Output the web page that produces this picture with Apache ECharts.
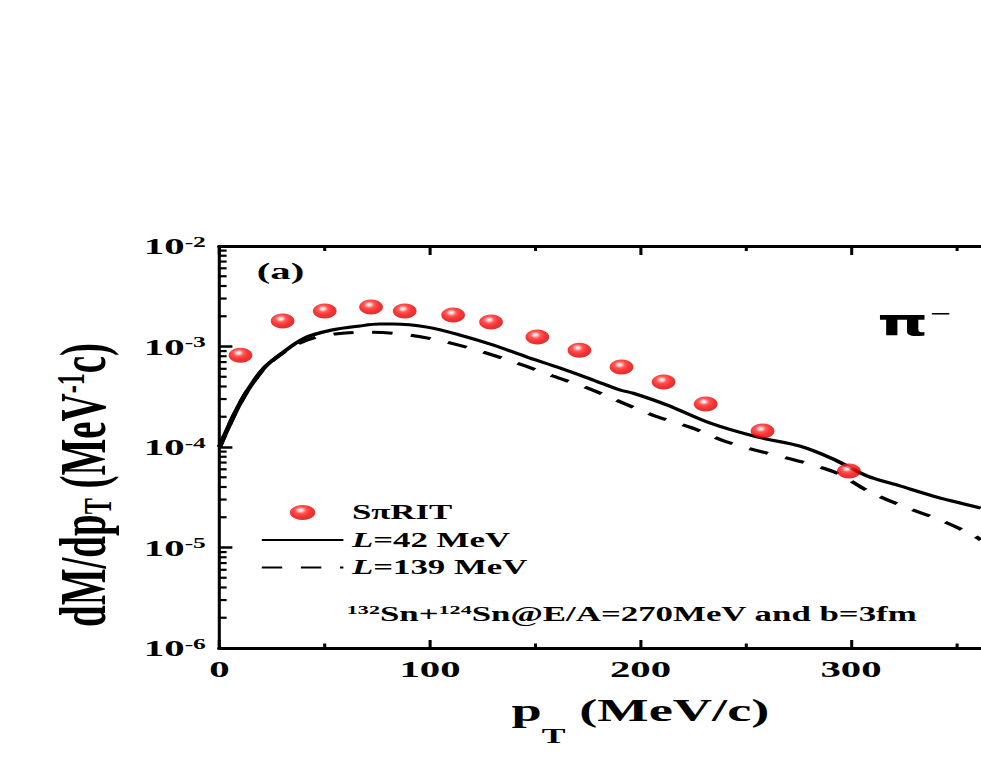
<!DOCTYPE html>
<html>
<head>
<meta charset="utf-8">
<script src="https://cdn.jsdelivr.net/npm/echarts@6/dist/echarts.min.js"></script>
<style>
html,body{margin:0;padding:0;background:#fff;overflow:hidden;width:981px;height:763px;}
#wrap{position:absolute;left:0;top:0;height:763px;transform-origin:0 0;}
</style>
</head>
<body>
<div id="wrap"></div>
<script>
// ---- data ----
const pTExp = [10, 30, 50, 72, 88, 111, 129, 151, 171, 191, 211, 231, 258, 299];
const dMExp = [8.2e-4, 1.79e-3, 2.25e-3, 2.47e-3, 2.25e-3, 2.06e-3, 1.75e-3, 1.24e-3, 9.2e-4, 6.25e-4, 4.43e-4, 2.68e-4, 1.44e-4, 5.77e-5];

const pTL42 = [0, 7.4, 13.5, 21.6, 29.7, 40.6, 53.4, 66.7, 76, 82.4, 98.6, 114.3, 130, 146, 161.8, 177.4, 190.3, 196.4, 212.6, 233, 255.3, 275.8, 291.5, 307.7, 323.4, 339, 361.7];
const dML42 = [1.0e-4, 2.18e-4, 3.69e-4, 6.25e-4, 8.6e-4, 1.22e-3, 1.46e-3, 1.60e-3, 1.67e-3, 1.67e-3, 1.56e-3, 1.30e-3, 1.035e-3, 7.87e-4, 6.11e-4, 4.65e-4, 3.69e-4, 3.44e-4, 2.62e-4, 1.73e-4, 1.26e-4, 1.02e-4, 7.6e-5, 5.14e-5, 4.09e-5, 3.25e-5, 2.47e-5];

const pTL139 = [0, 7.4, 13.5, 21.6, 29.7, 38, 46, 56, 70, 86.7, 106.2, 123.8, 141.3, 158.4, 176, 191.7, 208.3, 224.5, 241.1, 258.2, 276.7, 293.3, 309, 325.7, 342.3, 358, 361.7];
const dML139 = [1.0e-4, 2.18e-4, 3.69e-4, 6.2e-4, 8.5e-4, 1.08e-3, 1.24e-3, 1.34e-3, 1.39e-3, 1.33e-3, 1.13e-3, 9.0e-4, 6.85e-4, 5.08e-4, 3.78e-4, 2.74e-4, 1.99e-4, 1.55e-4, 1.12e-4, 8.9e-5, 7.1e-5, 5.5e-5, 3.56e-5, 2.53e-5, 1.88e-5, 1.33e-5, 1.19e-5];

const seriesNames = ['S\u03c0RIT', 'L=42 MeV', 'L=139 MeV'];
const xTickLabels = ['0', '100', '200', '300'];
const yMinorMantissas = [2, 3, 4, 5, 6, 7, 8, 9];
const yMinorDecades = [-6, -5, -4, -3];

// ---- layout ----
const SX = 1.7;               // horizontal stretch of the original figure
const W = 981 / SX;
const FONT = '"Liberation Serif","Times New Roman",serif';

const wrap = document.getElementById('wrap');
wrap.style.width = W + 'px';
wrap.style.transform = 'scaleX(' + SX + ')';

const chart = echarts.init(wrap, null, {renderer: 'svg', width: W, height: 763});

const zip = (a, b) => a.map((v, i) => [v, b[i]]);
const minorTicks = [];
yMinorDecades.forEach(d => yMinorMantissas.forEach(m => minorTicks.push([0, m * Math.pow(10, d)])));

const sphere = {
  type: 'radial', x: 0.42, y: 0.35, r: 0.62,
  colorStops: [
    {offset: 0, color: '#ffffff'},
    {offset: 0.12, color: '#ffd0d0'},
    {offset: 0.35, color: '#ff3030'},
    {offset: 0.65, color: '#ff0000'},
    {offset: 1, color: '#cc0000'}
  ]
};

const option = {
  animation: false,
  backgroundColor: '#fff',
  grid: {left: 129.1, top: 246, width: 495.3, height: 402, containLabel: false, outerBoundsMode: 'none'},
  xAxis: [{
    type: 'value', min: 0, max: 400, interval: 100,
    axisLine: {show: true, lineStyle: {color: '#000', width: 3}},
    axisTick: {show: true, inside: true, length: 8, lineStyle: {color: '#000', width: 1.8}},
    minorTick: {show: true, splitNumber: 2, length: 4.5, lineStyle: {color: '#000', width: 1.8}},
    splitLine: {show: false},
    axisLabel: {
      margin: 9, color: '#000', fontFamily: FONT, fontWeight: 'bold', fontSize: 24,
      showMaxLabel: false,
      formatter: v => xTickLabels[Math.round(v / 100)] || ''
    },
    name: '{b|p}{sub|T}{b| (MeV/c)}',
    nameLocation: 'middle', nameGap: 46,
    nameTextStyle: {
      color: '#000', fontFamily: FONT, fontWeight: 'bold', fontSize: 32,
      rich: {
        b: {fontFamily: FONT, fontWeight: 'bold', fontSize: 32, color: '#000', verticalAlign: 'bottom', padding: [0, 0, 20, 0]},
        sub: {fontFamily: FONT, fontWeight: 'bold', fontSize: 21, color: '#000', verticalAlign: 'bottom'}
      }
    }
  }, {
    type: 'value', min: 0, max: 400, interval: 100, position: 'top',
    axisLine: {show: true, lineStyle: {color: '#000', width: 3}},
    axisTick: {show: true, inside: true, length: 9, lineStyle: {color: '#000', width: 1.8}},
    minorTick: {show: true, splitNumber: 2, length: 5, lineStyle: {color: '#000', width: 1.8}},
    splitLine: {show: false},
    axisLabel: {show: false}
  }],
  yAxis: {
    type: 'log', logBase: 10, min: 1e-6, max: 1e-2, splitNumber: 4,
    axisLine: {show: true, lineStyle: {color: '#000', width: 1.8}},
    axisTick: {show: true, inside: true, length: 7.6, lineStyle: {color: '#000', width: 2.5}},
    splitLine: {show: false},
    axisLabel: {
      margin: 8, color: '#000',
      formatter: v => '{b|10}{s|' + Math.round(Math.log10(v)) + '}',
      rich: {
        b: {fontFamily: FONT, fontWeight: 'bold', fontSize: 24, color: '#000', verticalAlign: 'top'},
        s: {fontFamily: FONT, fontWeight: 'bold', fontSize: 15, color: '#000', verticalAlign: 'top'}
      }
    }
  },
  legend: {
    data: [
      {name: seriesNames[0]},
      {name: seriesNames[1], itemStyle: {opacity: 0}},
      {name: seriesNames[2], itemStyle: {opacity: 0}}
    ],
    orient: 'vertical', left: 153, top: 502, padding: 0,
    itemWidth: 48, itemHeight: 15, itemGap: 6.5,
    selectedMode: false,
    formatter: n => n.indexOf('L=') === 0 ? '{i|L}{t|' + n.slice(1) + '}' : '{t|' + n + '}',
    textStyle: {
      color: '#000', fontFamily: FONT, fontWeight: 'bold', fontSize: 20.5, lineHeight: 21,
      rich: {
        i: {fontFamily: FONT, fontWeight: 'bold', fontStyle: 'italic', fontSize: 20.5, color: '#000'},
        t: {fontFamily: FONT, fontWeight: 'bold', fontSize: 20.5, color: '#000'}
      }
    }
  },
  graphic: [
    {type: 'text', left: 151, top: 259, style: {text: '(a)', font: 'bold 24px ' + FONT, fill: '#000'}},
    {type: 'text', x: 516, y: 322, style: {
      text: '{p|\u03c0}{m|\u2212}',
      textVerticalAlign: 'middle', verticalAlign: 'middle',
      rich: {
        p: {font: 'bold 38px "DejaVu Sans"', fill: '#000', verticalAlign: 'bottom'},
        m: {font: 'bold 22px ' + FONT, fill: '#000', verticalAlign: 'top', padding: [0, 0, 0, 1]}
      }
    }},
    {type: 'text', x: 204, y: 614, style: {
      text: '{p|132}{t|Sn+}{p|124}{t|Sn@E/A=270MeV and b=3fm}',
      textVerticalAlign: 'middle', verticalAlign: 'middle',
      rich: {
        p: {font: 'bold 13px ' + FONT, fill: '#000', verticalAlign: 'top'},
        t: {font: 'bold 20.5px ' + FONT, fill: '#000', verticalAlign: 'top'}
      }
    }},
    {type: 'text', x: 49, y: 485, rotation: Math.PI / 2, style: {
      text: '{b|dM/dp}{sub|T}{b| (MeV}{sup|-1}{b|c)}',
      align: 'center', textAlign: 'center', verticalAlign: 'middle', textVerticalAlign: 'middle',
      rich: {
        b: {font: 'bold 39px ' + FONT, fill: '#000', verticalAlign: 'middle'},
        sub: {font: 'bold 24px ' + FONT, fill: '#000', verticalAlign: 'bottom', padding: [16, 0, 0, 0]},
        sup: {font: 'bold 24px ' + FONT, fill: '#000', verticalAlign: 'top', padding: [0, 0, 14, 0]}
      }
    }}
  ],
  series: [
    {
      name: seriesNames[0], type: 'scatter', data: zip(pTExp, dMExp),
      symbol: 'circle', symbolSize: [14, 15],
      itemStyle: {color: sphere}, z: 5
    },
    {
      name: seriesNames[1], type: 'line', data: zip(pTL42, dML42),
      showSymbol: false, symbol: 'none', smooth: 0.3,
      lineStyle: {color: '#000', width: 3, type: 'solid'},
      itemStyle: {color: '#000'}, z: 3
    },
    {
      name: seriesNames[2], type: 'line', data: zip(pTL139, dML139),
      showSymbol: false, symbol: 'none', smooth: 0.3,
      lineStyle: {color: '#000', width: 3, type: [12, 11]},
      itemStyle: {color: '#000'}, z: 3
    },
    {
      name: 'minor', type: 'custom', data: minorTicks, silent: true, z: 10,
      renderItem: (params, api) => {
        const p = api.coord([api.value(0), api.value(1)]);
        return {type: 'line', shape: {x1: p[0], y1: p[1], x2: p[0] + 4.2, y2: p[1]},
                style: {stroke: '#000', lineWidth: 2.2}};
      }
    }
  ]
};
chart.setOption(option);
</script>
</body>
</html>
